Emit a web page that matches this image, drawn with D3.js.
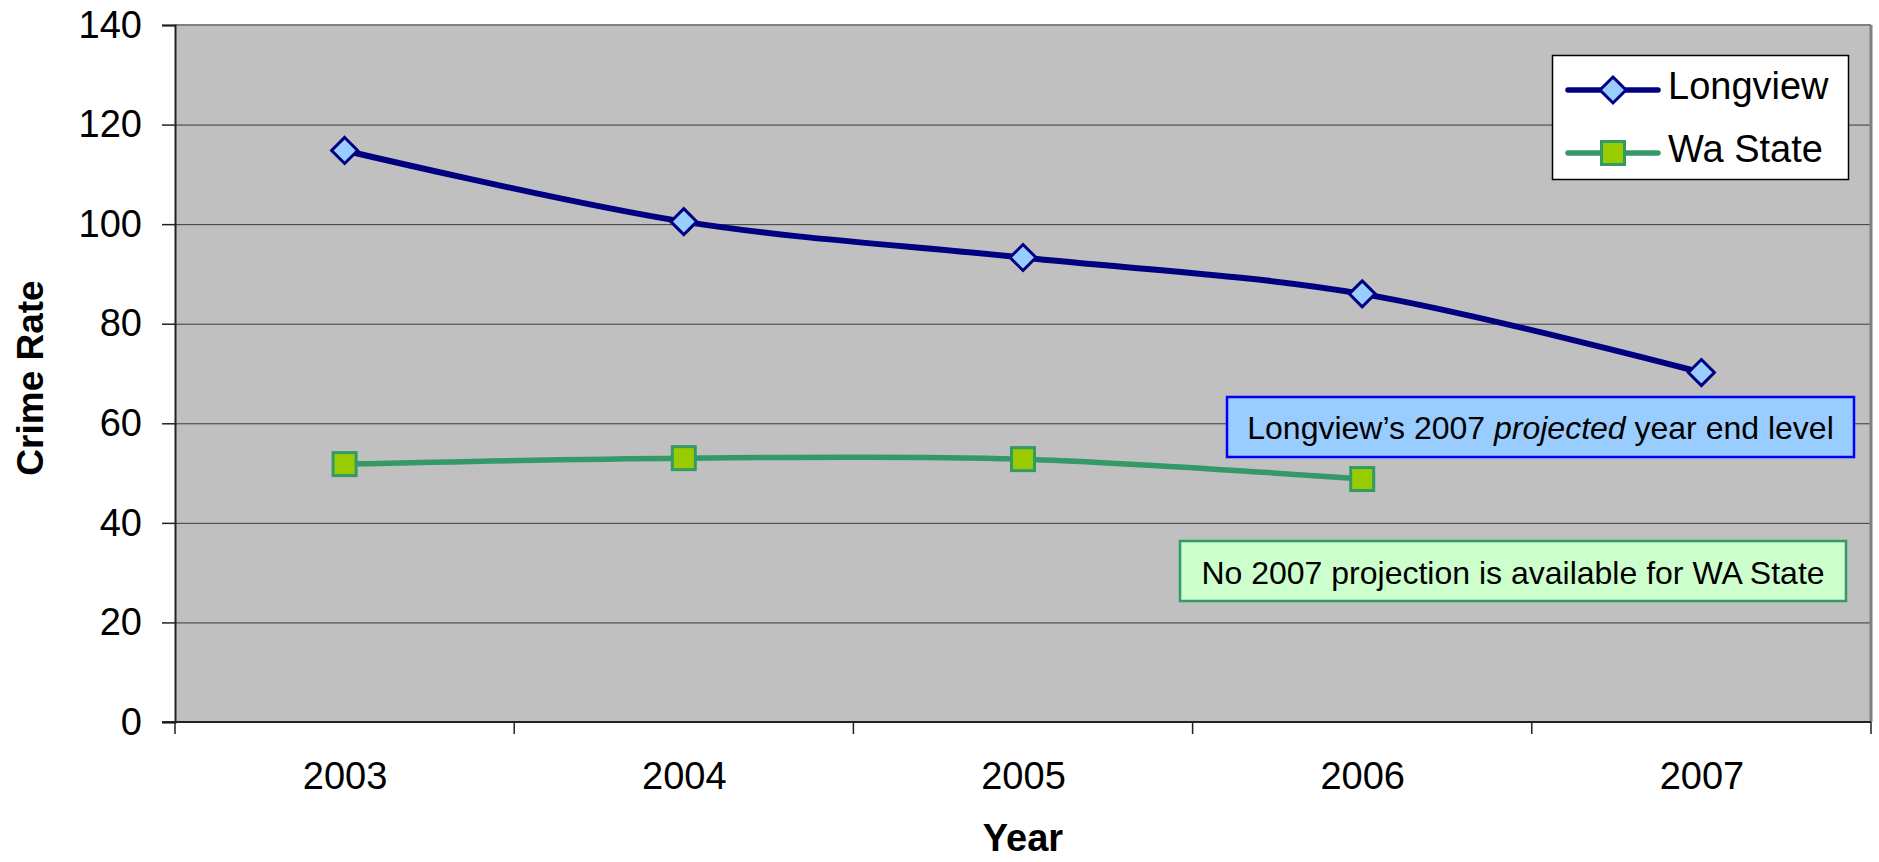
<html>
<head>
<style>
  body{margin:0;background:#fff}
  svg text{font-family:Arial,"Liberation Sans",sans-serif;fill:#000}
</style>
</head>
<body>
<div id="chart"></div>
<script src="https://d3js.org/d3.v7.min.js"></script>
<script>
(function () {

  // data
  var years     = ['2003', '2004', '2005', '2006', '2007'];
  var longview  = [114.8, 100.5, 93.3, 86.0, 70.2];
  var waState   = [51.8, 53.0, 52.8, 48.8, null];
  var yTicks    = [0, 20, 40, 60, 80, 100, 120, 140];
  var seriesNames = ['Longview', 'Wa State'];

  var
    width  = 1879,
    height = 862,
    left   = 175,
    right  = 1871,
    top    = 25,
    bottom = 722;

  var svg = d3.select('#chart').append('svg')
    .attr('width', width)
    .attr('height', height);

  var xBand = d3.scaleBand().domain(years).range([left, right]);
  var x = d3.scalePoint().domain(years).range([left, right]).padding(0.5);
  var y = d3.scaleLinear().domain([0, 140]).range([bottom, top]);

  // plot background
  svg.append('rect')
    .attr('x', left).attr('y', top)
    .attr('width', right - left).attr('height', bottom - top)
    .attr('fill', '#c0c0c0');

  // gridlines
  svg.append('g').selectAll('line')
    .data(yTicks.filter(function (d) { return d > 0 && d < 140; }))
    .join('line')
    .attr('x1', left).attr('x2', right)
    .attr('y1', function (d) { return y(d) + 0.5; })
    .attr('y2', function (d) { return y(d) + 0.5; })
    .attr('stroke', '#3a3a3a')
    .attr('stroke-width', 1);

  // top / right border
  svg.append('line')
    .attr('x1', left).attr('x2', right)
    .attr('y1', y(140)).attr('y2', y(140))
    .attr('stroke', '#808080').attr('stroke-width', 2);
  svg.append('line')
    .attr('x1', right).attr('x2', right)
    .attr('y1', top).attr('y2', bottom)
    .attr('stroke', '#808080').attr('stroke-width', 3);

  // y axis
  var yAxis = svg.append('g')
    .attr('transform', 'translate(' + left + ',0)')
    .call(d3.axisLeft(y).tickValues(yTicks).tickSize(13).tickPadding(20));
  yAxis.select('.domain').attr('stroke', '#222').attr('stroke-width', 2);
  yAxis.selectAll('.tick line').attr('stroke', '#222').attr('stroke-width', 1.5);
  yAxis.selectAll('text')
    .attr('font-size', 38)
    .attr('font-family', 'Arial, "Liberation Sans", sans-serif')
    .attr('fill', '#000');

  // x axis line
  svg.append('line')
    .attr('x1', left - 13).attr('x2', right)
    .attr('y1', bottom).attr('y2', bottom)
    .attr('stroke', '#222').attr('stroke-width', 2);

  // x tick marks at category boundaries
  svg.append('g').selectAll('line')
    .data(years.concat(['end']))
    .join('line')
    .attr('x1', function (d) { return d === 'end' ? right : xBand(d); })
    .attr('x2', function (d) { return d === 'end' ? right : xBand(d); })
    .attr('y1', bottom).attr('y2', bottom + 12)
    .attr('stroke', '#222').attr('stroke-width', 1.5);

  // x labels
  var xAxis = svg.append('g')
    .attr('transform', 'translate(0,' + bottom + ')')
    .call(d3.axisBottom(x).tickSize(0).tickPadding(40));
  xAxis.select('.domain').remove();
  xAxis.selectAll('text')
    .attr('font-size', 38)
    .attr('font-family', 'Arial, "Liberation Sans", sans-serif')
    .attr('fill', '#000');

  // axis titles
  svg.append('text')
    .attr('transform', 'translate(43,378) rotate(-90)')
    .attr('text-anchor', 'middle')
    .attr('font-size', 37)
    .attr('font-weight', 'bold')
    .text('Crime Rate');

  svg.append('text')
    .attr('x', (left + right) / 2)
    .attr('y', 851)
    .attr('text-anchor', 'middle')
    .attr('font-size', 38)
    .attr('font-weight', 'bold')
    .text('Year');

  // lines (smoothed like the original)
  var line = d3.line()
    .defined(function (d) { return d[1] != null; })
    .x(function (d) { return x(d[0]); })
    .y(function (d) { return y(d[1]); })
    .curve(d3.curveCardinal.tension(0));

  var lvData = years.map(function (d, i) { return [d, longview[i]]; });
  var waData = years.map(function (d, i) { return [d, waState[i]]; });

  svg.append('path')
    .attr('d', line(waData))
    .attr('fill', 'none')
    .attr('stroke', '#339966')
    .attr('stroke-width', 5.5);

  svg.append('path')
    .attr('d', line(lvData))
    .attr('fill', 'none')
    .attr('stroke', '#000080')
    .attr('stroke-width', 6);

  function diamond(g, cx, cy) {
    var r = 13;
    g.append('path')
      .attr('d', 'M' + cx + ',' + (cy - r) + 'L' + (cx + r) + ',' + cy +
                 'L' + cx + ',' + (cy + r) + 'L' + (cx - r) + ',' + cy + 'Z')
      .attr('fill', '#99ccff')
      .attr('stroke', '#000080')
      .attr('stroke-width', 3);
  }
  function square(g, cx, cy) {
    g.append('rect')
      .attr('x', cx - 11.5).attr('y', cy - 11.5)
      .attr('width', 23).attr('height', 23)
      .attr('fill', '#99cc00')
      .attr('stroke', '#339966')
      .attr('stroke-width', 3);
  }

  var marks = svg.append('g');
  waData.filter(function (d) { return d[1] != null; })
    .forEach(function (d) { square(marks, x(d[0]), y(d[1])); });
  lvData.forEach(function (d) { diamond(marks, x(d[0]), y(d[1])); });

  // legend
  var lg = svg.append('g');
  lg.append('rect')
    .attr('x', 1552.5).attr('y', 55.5)
    .attr('width', 296).attr('height', 124)
    .attr('fill', '#fff')
    .attr('stroke', '#000').attr('stroke-width', 1.5);

  var legendRows = [
    {name: seriesNames[0], y: 90, color: '#000080', mark: diamond},
    {name: seriesNames[1], y: 153, color: '#339966', mark: square}
  ];
  legendRows.forEach(function (r) {
    lg.append('line')
      .attr('x1', 1568).attr('x2', 1658)
      .attr('y1', r.y).attr('y2', r.y)
      .attr('stroke', r.color)
      .attr('stroke-width', 5.5)
      .attr('stroke-linecap', 'round');
    r.mark(lg, 1613, r.y);
    lg.append('text')
      .attr('x', 1668).attr('y', r.y + 9)
      .attr('font-size', 38)
      .text(r.name);
  });

  // annotation boxes
  var blue = svg.append('g');
  blue.append('rect')
    .attr('x', 1227).attr('y', 397)
    .attr('width', 627).attr('height', 60)
    .attr('fill', '#99ccff')
    .attr('stroke', '#0000ff').attr('stroke-width', 2.5);
  var bt = blue.append('text')
    .attr('x', 1540.5).attr('y', 439)
    .attr('text-anchor', 'middle')
    .attr('font-size', 32);
  bt.append('tspan').text('Longview\u2019s 2007 ');
  bt.append('tspan').attr('font-style', 'italic').text('projected');
  bt.append('tspan').text(' year end level');

  var green = svg.append('g');
  green.append('rect')
    .attr('x', 1180).attr('y', 541)
    .attr('width', 666).attr('height', 60)
    .attr('fill', '#ccffcc')
    .attr('stroke', '#339966').attr('stroke-width', 2.5);
  green.append('text')
    .attr('x', 1513).attr('y', 584)
    .attr('text-anchor', 'middle')
    .attr('font-size', 32)
    .text('No 2007 projection is available for WA State');

})();
</script>
</body>
</html>
